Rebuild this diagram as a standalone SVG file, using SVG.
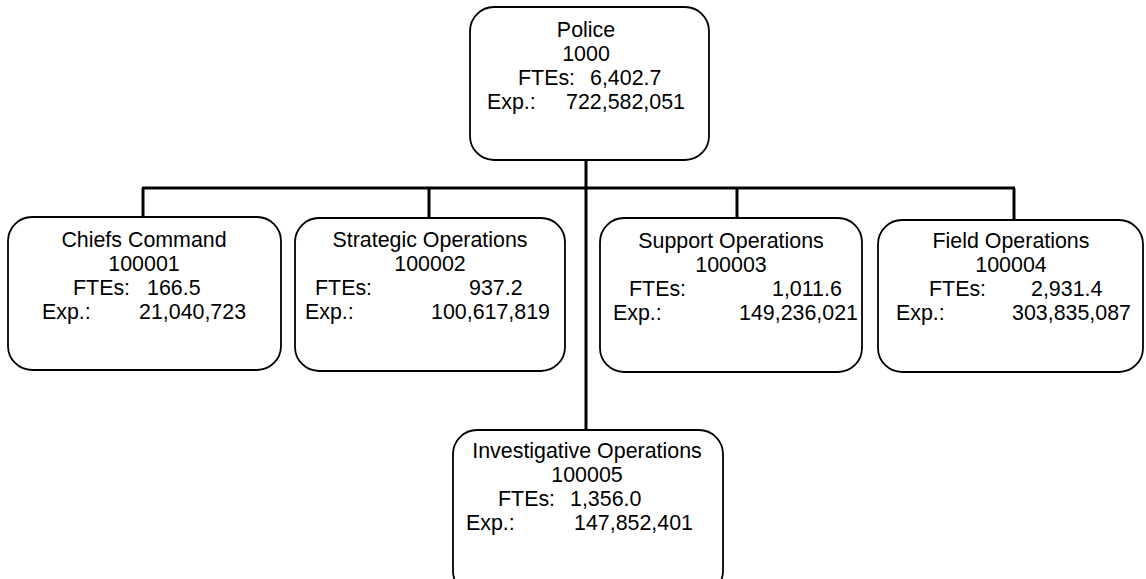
<svg xmlns="http://www.w3.org/2000/svg" width="1146" height="579" viewBox="0 0 1146 579">
<style>
.box{fill:#fff;stroke:#000;stroke-width:1.8}
.t{font-family:"Liberation Sans",Arial,sans-serif;font-size:21.4px;fill:#000}
.c{text-anchor:middle}
.con{stroke:#000;stroke-width:3;fill:none}
</style>
<rect width="1146" height="579" fill="#fff"/>
<g id="connectors">
<line class="con" x1="586" y1="160" x2="586" y2="430"/>
<line class="con" x1="142" y1="188" x2="1015" y2="188"/>
<line class="con" x1="143" y1="188" x2="143" y2="217"/>
<line class="con" x1="429" y1="188" x2="429" y2="218"/>
<line class="con" x1="737" y1="188" x2="737" y2="218"/>
<line class="con" x1="1014" y1="188" x2="1014" y2="220"/>
</g>
<g id="police">
<rect class="box" x="470" y="7" width="239" height="153" rx="24"/>
<text class="t c" x="586" y="37">Police</text>
<text class="t c" x="586" y="61">1000</text>
<text class="t"><tspan x="518" y="85">FTEs:</tspan><tspan x="590" y="85">6,402.7</tspan></text>
<text class="t"><tspan x="487" y="109">Exp.:</tspan><tspan x="566" y="109">722,582,051</tspan></text>
</g>
<g id="chiefs">
<rect class="box" x="8" y="217" width="273" height="153" rx="24"/>
<text class="t c" x="144" y="247">Chiefs Command</text>
<text class="t c" x="144" y="271">100001</text>
<text class="t"><tspan x="73" y="295">FTEs:</tspan><tspan x="147" y="295">166.5</tspan></text>
<text class="t"><tspan x="42" y="319">Exp.:</tspan><tspan x="139" y="319">21,040,723</tspan></text>
</g>
<g id="strategic">
<rect class="box" x="295" y="218" width="270" height="153" rx="24"/>
<text class="t c" x="430" y="247">Strategic Operations</text>
<text class="t c" x="430" y="271">100002</text>
<text class="t"><tspan x="315" y="295">FTEs:</tspan><tspan x="469" y="295">937.2</tspan></text>
<text class="t"><tspan x="305" y="319">Exp.:</tspan><tspan x="431" y="319">100,617,819</tspan></text>
</g>
<g id="support">
<rect class="box" x="600" y="218" width="262" height="154" rx="24"/>
<text class="t c" x="731" y="248">Support Operations</text>
<text class="t c" x="731" y="272">100003</text>
<text class="t"><tspan x="629" y="296">FTEs:</tspan><tspan x="772" y="296">1,011.6</tspan></text>
<text class="t"><tspan x="613" y="320">Exp.:</tspan><tspan x="739" y="320">149,236,021</tspan></text>
</g>
<g id="field">
<rect class="box" x="878" y="220" width="265" height="152" rx="24"/>
<text class="t c" x="1011" y="248">Field Operations</text>
<text class="t c" x="1011" y="272">100004</text>
<text class="t"><tspan x="929" y="296">FTEs:</tspan><tspan x="1031" y="296">2,931.4</tspan></text>
<text class="t"><tspan x="896" y="320">Exp.:</tspan><tspan x="1012" y="320">303,835,087</tspan></text>
</g>
<g id="investigative">
<rect class="box" x="453" y="430" width="270" height="165" rx="24"/>
<text class="t c" x="587" y="458">Investigative Operations</text>
<text class="t c" x="587" y="482">100005</text>
<text class="t"><tspan x="498" y="506">FTEs:</tspan><tspan x="570" y="506">1,356.0</tspan></text>
<text class="t"><tspan x="466" y="530">Exp.:</tspan><tspan x="574" y="530">147,852,401</tspan></text>
</g>
</svg>
